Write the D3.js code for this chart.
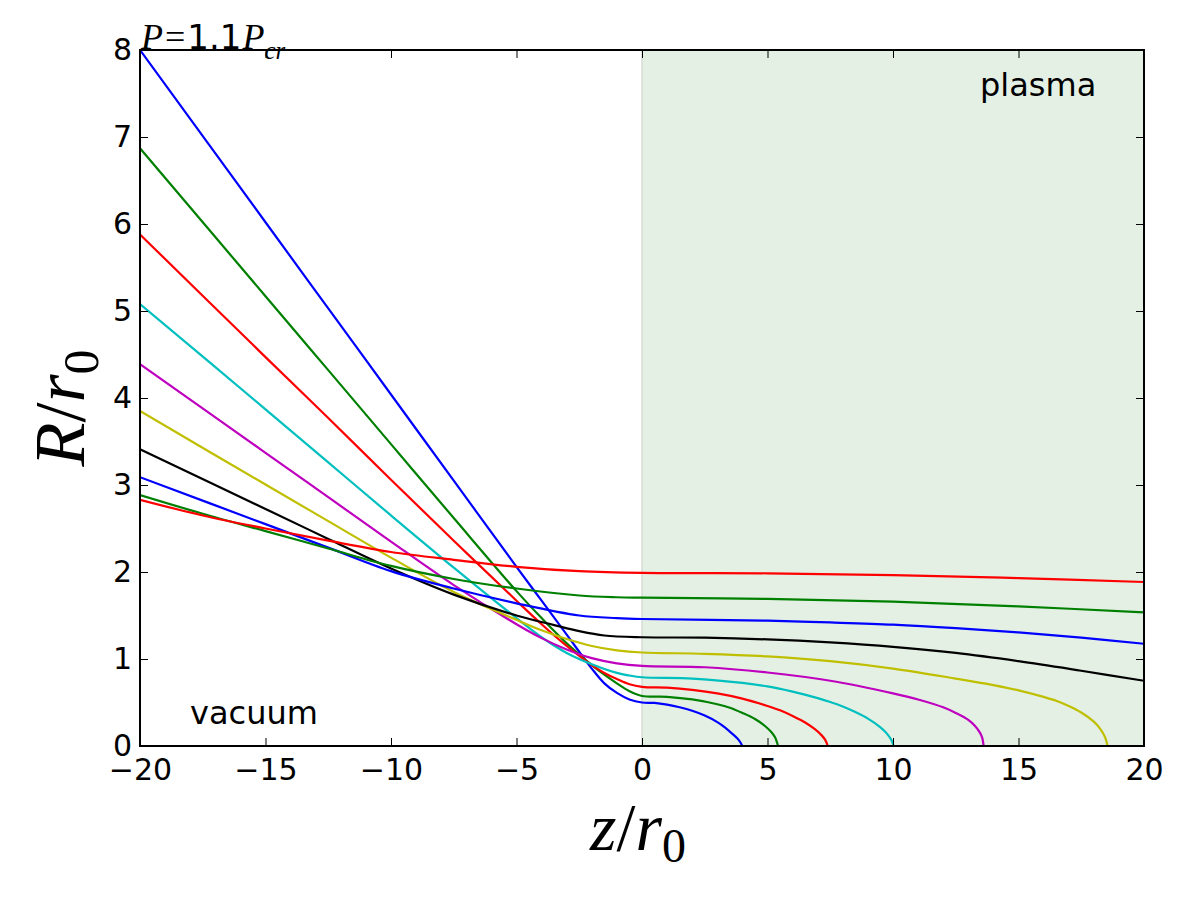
<!DOCTYPE html>
<html>
<head>
<meta charset="utf-8">
<script src="https://cdn.jsdelivr.net/npm/d3@7"></script>
<style>
	body { margin: 0; background: #ffffff; }
	svg { display: block; }
</style>
</head>
<body>
<svg id="main_svg"></svg>
<script>
const WIDTH = 1200;
const HEIGHT = 900;
const MARGIN_LEFT = 140;
const MARGIN_RIGHT = 56;
const MARGIN_TOP = 50;
const MARGIN_BOTTOM = 154;

// tick values
const X_TICKS = [-20, -15, -10, -5, 0, 5, 10, 15, 20];
const Y_TICKS = [0, 1, 2, 3, 4, 5, 6, 7, 8];

// beam radius R/r0 against z/r0, one list per launch condition
const curve1 = [[-20, 8.00], [-15, 6.02], [-12.5, 5.03], [-10, 4.04], [-7.5, 3.05], [-5, 2.06], [-4, 1.67], [-3, 1.28], [-2, 0.89], [-1.5, 0.72], [-1, 0.61], [-0.5, 0.535], [0, 0.50], [0.5, 0.495], [1, 0.475], [1.5, 0.445], [2, 0.405], [2.5, 0.35], [3, 0.275], [3.3, 0.215], [3.6, 0.14], [3.85, 0.07], [4.0, 0]];
const curve2 = [[-20, 6.87], [-15, 5.17], [-12.5, 4.32], [-10, 3.47], [-7.5, 2.62], [-5, 1.78], [-4, 1.47], [-3, 1.18], [-2, 0.93], [-1.5, 0.82], [-1, 0.72], [-0.5, 0.63], [0, 0.575], [1, 0.565], [2, 0.535], [3, 0.48], [3.5, 0.44], [4, 0.38], [4.5, 0.31], [4.9, 0.23], [5.15, 0.16], [5.3, 0.10], [5.42, 0]];
const curve3 = [[-20, 5.88], [-15, 4.47], [-12.5, 3.77], [-10, 3.06], [-7.5, 2.36], [-5, 1.67], [-4, 1.40], [-3, 1.15], [-2, 0.93], [-1.5, 0.84], [-1, 0.77], [-0.5, 0.71], [0, 0.68], [1, 0.67], [2, 0.645], [3, 0.605], [4, 0.545], [5, 0.46], [5.5, 0.41], [6, 0.345], [6.5, 0.27], [6.9, 0.19], [7.15, 0.125], [7.3, 0.07], [7.4, 0]];
const curve4 = [[-20, 5.08], [-15, 3.87], [-12.5, 3.26], [-10, 2.65], [-7.5, 2.05], [-5, 1.47], [-4, 1.25], [-3, 1.07], [-2, 0.94], [-1, 0.84], [-0.5, 0.81], [0, 0.79], [2, 0.775], [4, 0.725], [5, 0.685], [6, 0.625], [7, 0.55], [7.5, 0.505], [8, 0.455], [8.5, 0.39], [9, 0.315], [9.5, 0.215], [9.75, 0.145], [9.95, 0.06], [10.02, 0]];
const curve5 = [[-20, 4.39], [-15, 3.37], [-12.5, 2.86], [-10, 2.35], [-7.5, 1.85], [-5, 1.40], [-4, 1.24], [-3, 1.11], [-2, 1.01], [-1, 0.95], [0, 0.92], [2.5, 0.905], [5, 0.845], [7.5, 0.75], [10, 0.605], [11, 0.535], [12, 0.445], [12.5, 0.38], [13, 0.30], [13.25, 0.235], [13.45, 0.16], [13.55, 0.10], [13.61, 0]];
const curve6 = [[-20, 3.85], [-15, 3.005], [-12.5, 2.585], [-10, 2.165], [-7.5, 1.77], [-5, 1.45], [-4, 1.33], [-3, 1.23], [-2, 1.15], [-1, 1.10], [0, 1.075], [2.5, 1.06], [5, 1.03], [7.5, 0.975], [10, 0.89], [12.5, 0.775], [14, 0.70], [15, 0.64], [16, 0.565], [16.5, 0.52], [17, 0.46], [17.5, 0.385], [18, 0.28], [18.25, 0.20], [18.45, 0.10], [18.55, 0]];
const curve7 = [[-20, 3.41], [-15, 2.725], [-12.5, 2.38], [-10, 2.04], [-7.5, 1.74], [-5, 1.50], [-3.5, 1.39], [-2.5, 1.32], [-1.5, 1.27], [0, 1.25], [2.5, 1.245], [5, 1.225], [7.5, 1.19], [10, 1.14], [12.5, 1.07], [15, 0.975], [17.5, 0.865], [20, 0.75]];
const curve8 = [[-20, 3.09], [-15, 2.55], [-12.5, 2.28], [-10, 2.01], [-7.5, 1.81], [-5, 1.64], [-2.5, 1.50], [-1, 1.47], [0, 1.46], [5, 1.44], [7.5, 1.42], [10, 1.395], [12.5, 1.355], [15, 1.305], [17.5, 1.245], [20, 1.175]];
const curve9 = [[-20, 2.885], [-17.5, 2.67], [-15, 2.47], [-12.5, 2.27], [-10, 2.07], [-7.5, 1.92], [-5, 1.81], [-2.5, 1.73], [-1, 1.71], [0, 1.705], [5, 1.69], [10, 1.66], [15, 1.605], [20, 1.535]];
const curve10 = [[-20, 2.83], [-17.5, 2.65], [-15, 2.50], [-12.5, 2.36], [-10, 2.23], [-7.5, 2.14], [-5, 2.06], [-2.5, 2.01], [0, 1.99], [5, 1.985], [10, 1.965], [15, 1.93], [20, 1.885]];

const CURVES = [curve1, curve2, curve3, curve4, curve5, curve6, curve7, curve8, curve9, curve10];
// matplotlib classic colour cycle
const COLORS = ['#0000ff', '#008000', '#ff0000', '#00bfbf', '#bf00bf', '#bfbf00', '#000000', '#0000ff', '#008000', '#ff0000'];

const PLASMA_START = 0;
const SANS = 'DejaVu Sans, sans-serif';
const SERIF = 'Liberation Serif, DejaVu Serif, serif';

const svg = d3.select('#main_svg').attr('width', WIDTH).attr('height', HEIGHT);

const x_scale = d3.scaleLinear()
	.domain([X_TICKS[0], X_TICKS[X_TICKS.length - 1]])
	.range([MARGIN_LEFT, WIDTH - MARGIN_RIGHT]);

const y_scale = d3.scaleLinear()
	.domain([Y_TICKS[0], Y_TICKS[Y_TICKS.length - 1]])
	.range([HEIGHT - MARGIN_BOTTOM, MARGIN_TOP]);

const fmt = d => d < 0 ? '\u2212' + Math.abs(d) : String(d);

svg.append('defs').append('clipPath')
	.attr('id', 'plot_clip')
	.append('rect')
	.attr('x', MARGIN_LEFT)
	.attr('y', MARGIN_TOP)
	.attr('width', WIDTH - MARGIN_LEFT - MARGIN_RIGHT)
	.attr('height', HEIGHT - MARGIN_TOP - MARGIN_BOTTOM);

// plasma region shading
svg.append('rect')
	.attr('x', x_scale(PLASMA_START))
	.attr('y', MARGIN_TOP)
	.attr('width', x_scale(X_TICKS[X_TICKS.length - 1]) - x_scale(PLASMA_START))
	.attr('height', HEIGHT - MARGIN_TOP - MARGIN_BOTTOM)
	.attr('fill', '#e4f0e4');

svg.append('line')
	.attr('x1', x_scale(PLASMA_START))
	.attr('x2', x_scale(PLASMA_START))
	.attr('y1', MARGIN_TOP)
	.attr('y2', HEIGHT - MARGIN_BOTTOM)
	.attr('stroke', '#d6ddd6')
	.attr('stroke-width', 1.5);

const line = d3.line()
	.x(d => x_scale(d[0]))
	.y(d => y_scale(d[1]))
	.curve(d3.curveCatmullRom.alpha(0.5));

svg.append('g')
	.attr('clip-path', 'url(#plot_clip)')
	.selectAll('path')
	.data(CURVES)
	.enter()
	.append('path')
	.attr('d', line)
	.attr('fill', 'none')
	.attr('stroke', (d, i) => COLORS[i])
	.attr('stroke-width', 2.2)
	.attr('stroke-linejoin', 'round');

// axes, ticks pointing inward
const style_axis = (g) => {
	g.select('.domain').remove();
	g.selectAll('.tick line').attr('stroke', '#000').attr('stroke-width', 1);
	g.selectAll('.tick text')
		.attr('font-family', SANS)
		.attr('font-size', '30px')
		.attr('fill', '#000');
};

svg.append('g')
	.attr('transform', `translate(0,${HEIGHT - MARGIN_BOTTOM})`)
	.call(d3.axisBottom(x_scale).tickValues(X_TICKS).tickFormat(fmt).tickSizeInner(-8).tickSizeOuter(0).tickPadding(13))
	.call(style_axis);

svg.append('g')
	.attr('transform', `translate(0,${MARGIN_TOP})`)
	.call(d3.axisTop(x_scale).tickValues(X_TICKS).tickFormat('').tickSizeInner(-8).tickSizeOuter(0))
	.call(style_axis);

svg.append('g')
	.attr('transform', `translate(${MARGIN_LEFT},0)`)
	.call(d3.axisLeft(y_scale).tickValues(Y_TICKS).tickFormat(fmt).tickSizeInner(-8).tickSizeOuter(0).tickPadding(8))
	.call(style_axis);

svg.append('g')
	.attr('transform', `translate(${WIDTH - MARGIN_RIGHT},0)`)
	.call(d3.axisRight(y_scale).tickValues(Y_TICKS).tickFormat('').tickSizeInner(-8).tickSizeOuter(0))
	.call(style_axis);

// frame
svg.append('rect')
	.attr('x', MARGIN_LEFT)
	.attr('y', MARGIN_TOP)
	.attr('width', WIDTH - MARGIN_LEFT - MARGIN_RIGHT)
	.attr('height', HEIGHT - MARGIN_TOP - MARGIN_BOTTOM)
	.attr('fill', 'none')
	.attr('stroke', '#000')
	.attr('stroke-width', 2);

// region labels
svg.append('text')
	.attr('x', 980)
	.attr('y', 96)
	.attr('font-family', SANS)
	.attr('font-size', '32px')
	.text('plasma');

svg.append('text')
	.attr('x', 190)
	.attr('y', 724)
	.attr('font-family', SANS)
	.attr('font-size', '32px')
	.text('vacuum');

// title P = 1.1 P_cr
const title = svg.append('text')
	.attr('x', MARGIN_LEFT + 1)
	.attr('y', MARGIN_TOP - 1)
	.attr('font-size', '36px');
title.append('tspan').attr('font-family', SERIF).attr('font-style', 'italic').text('P');
title.append('tspan').attr('font-family', SERIF).attr('dx', 2).text('=');
title.append('tspan').attr('font-family', SANS).attr('font-size', '34px').attr('dx', 2).text('1.1');
title.append('tspan').attr('font-family', SERIF).attr('font-style', 'italic').attr('dx', 1).text('P');
title.append('tspan').attr('font-family', SERIF).attr('font-style', 'italic').attr('font-size', '25px').attr('dy', 10).text('cr');

// axis labels
const x_label = svg.append('text')
	.attr('x', 638)
	.attr('y', 850)
	.attr('text-anchor', 'middle')
	.attr('font-family', SERIF)
	.attr('font-size', '68px');
x_label.append('tspan').attr('font-style', 'italic').text('z');
x_label.append('tspan').text('/');
x_label.append('tspan').attr('font-style', 'italic').text('r');
x_label.append('tspan').attr('font-size', '48px').attr('dy', 12).text('0');

const y_label = svg.append('text')
	.attr('transform', `translate(84, 408) rotate(-90)`)
	.attr('text-anchor', 'middle')
	.attr('font-family', SERIF)
	.attr('font-size', '72px');
y_label.append('tspan').attr('font-style', 'italic').text('R');
y_label.append('tspan').text('/');
y_label.append('tspan').attr('font-style', 'italic').text('r');
y_label.append('tspan').attr('font-size', '50px').attr('dy', 14).text('0');
</script>
</body>
</html>
